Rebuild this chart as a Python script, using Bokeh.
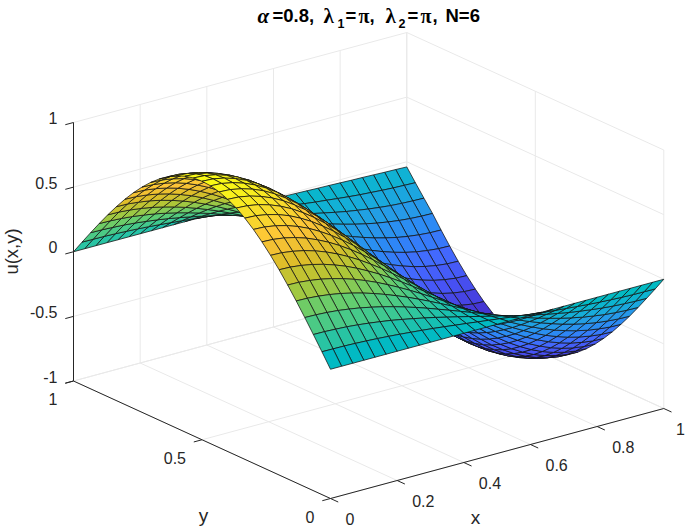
from bokeh.plotting import figure
from bokeh.embed import file_html
from bokeh.resources import INLINE
from bokeh.models import Range1d, ColumnDataSource
from bokeh.core.properties import value

x_nodes = [i/30 for i in range(31)]
y_nodes = [j/30 for j in range(31)]
U = [
[0,0,0,0,0,0,0,0,0,0,0,0,0,0,0,0,0,0,0,0,0,0,0,0,0,0,0,0,0,0,0],
[.105,.104,.103,.100,.096,.091,.085,.078,.070,.062,.053,.043,.032,.022,.011,0,-.011,-.022,-.032,-.043,-.053,-.062,-.070,-.078,-.085,-.091,-.096,-.100,-.103,-.104,-.105],
[.208,.207,.203,.198,.190,.180,.168,.155,.139,.122,.104,.085,.064,.043,.022,0,-.022,-.043,-.064,-.085,-.104,-.122,-.139,-.155,-.168,-.180,-.190,-.198,-.203,-.207,-.208],
[.309,.307,.302,.294,.282,.268,.250,.230,.207,.182,.155,.126,.095,.064,.032,0,-.032,-.064,-.095,-.126,-.155,-.182,-.207,-.230,-.250,-.268,-.282,-.294,-.302,-.307,-.309],
[.407,.405,.398,.387,.372,.352,.329,.302,.272,.239,.204,.166,.126,.085,.043,0,-.043,-.085,-.126,-.166,-.204,-.239,-.272,-.302,-.329,-.352,-.372,-.387,-.398,-.405,-.407],
[.500,.498,.489,.476,.457,.433,.405,.372,.335,.294,.250,.204,.155,.104,.053,0,-.053,-.104,-.155,-.204,-.250,-.294,-.335,-.372,-.405,-.433,-.457,-.476,-.489,-.498,-.500],
[.588,.585,.575,.559,.537,.509,.476,.437,.393,.346,.294,.239,.182,.122,.062,0,-.062,-.122,-.182,-.239,-.294,-.346,-.393,-.437,-.476,-.509,-.537,-.559,-.575,-.585,-.588],
[.669,.666,.654,.636,.611,.579,.541,.497,.448,.393,.335,.272,.207,.139,.070,0,-.070,-.139,-.207,-.272,-.335,-.393,-.448,-.497,-.541,-.579,-.611,-.636,-.654,-.666,-.669],
[.743,.739,.727,.707,.679,.643,.601,.552,.497,.437,.372,.302,.230,.155,.078,0,-.078,-.155,-.230,-.302,-.372,-.437,-.497,-.552,-.601,-.643,-.679,-.707,-.727,-.739,-.743],
[.809,.805,.791,.769,.739,.701,.654,.601,.541,.476,.405,.329,.250,.168,.085,0,-.085,-.168,-.250,-.329,-.405,-.476,-.541,-.601,-.654,-.701,-.739,-.769,-.791,-.805,-.809],
[.866,.862,.847,.824,.792,.750,.701,.643,.579,.509,.433,.352,.268,.180,.091,0,-.091,-.180,-.268,-.352,-.433,-.509,-.579,-.643,-.701,-.750,-.792,-.824,-.847,-.862,-.866],
[.914,.909,.894,.869,.835,.792,.739,.679,.611,.537,.457,.372,.282,.190,.096,0,-.096,-.190,-.282,-.372,-.457,-.537,-.611,-.679,-.739,-.792,-.835,-.869,-.894,-.909,-.914],
[.951,.946,.930,.904,.869,.824,.769,.707,.636,.559,.476,.387,.294,.198,.100,0,-.100,-.198,-.294,-.387,-.476,-.559,-.636,-.707,-.769,-.824,-.869,-.904,-.930,-.946,-.951],
[.978,.973,.956,.930,.894,.847,.791,.727,.654,.575,.489,.398,.302,.203,.103,0,-.103,-.203,-.302,-.398,-.489,-.575,-.654,-.727,-.791,-.847,-.894,-.930,-.956,-.973,-.978],
[.995,.990,.973,.946,.909,.862,.805,.739,.666,.585,.498,.405,.307,.207,.104,0,-.104,-.207,-.307,-.405,-.498,-.585,-.666,-.739,-.805,-.862,-.909,-.946,-.973,-.990,-.995],
[1,.995,.978,.951,.914,.866,.809,.743,.669,.588,.500,.407,.309,.208,.105,0,-.105,-.208,-.309,-.407,-.500,-.588,-.669,-.743,-.809,-.866,-.914,-.951,-.978,-.995,-1],
[.995,.990,.973,.946,.909,.862,.805,.739,.666,.585,.498,.405,.307,.207,.104,0,-.104,-.207,-.307,-.405,-.498,-.585,-.666,-.739,-.805,-.862,-.909,-.946,-.973,-.990,-.995],
[.978,.973,.956,.930,.894,.847,.791,.727,.654,.575,.489,.398,.302,.203,.103,0,-.103,-.203,-.302,-.398,-.489,-.575,-.654,-.727,-.791,-.847,-.894,-.930,-.956,-.973,-.978],
[.951,.946,.930,.904,.869,.824,.769,.707,.636,.559,.476,.387,.294,.198,.100,0,-.100,-.198,-.294,-.387,-.476,-.559,-.636,-.707,-.769,-.824,-.869,-.904,-.930,-.946,-.951],
[.914,.909,.894,.869,.835,.792,.739,.679,.611,.537,.457,.372,.282,.190,.096,0,-.096,-.190,-.282,-.372,-.457,-.537,-.611,-.679,-.739,-.792,-.835,-.869,-.894,-.909,-.914],
[.866,.862,.847,.824,.792,.750,.701,.643,.579,.509,.433,.352,.268,.180,.091,0,-.091,-.180,-.268,-.352,-.433,-.509,-.579,-.643,-.701,-.750,-.792,-.824,-.847,-.862,-.866],
[.809,.805,.791,.769,.739,.701,.654,.601,.541,.476,.405,.329,.250,.168,.085,0,-.085,-.168,-.250,-.329,-.405,-.476,-.541,-.601,-.654,-.701,-.739,-.769,-.791,-.805,-.809],
[.743,.739,.727,.707,.679,.643,.601,.552,.497,.437,.372,.302,.230,.155,.078,0,-.078,-.155,-.230,-.302,-.372,-.437,-.497,-.552,-.601,-.643,-.679,-.707,-.727,-.739,-.743],
[.669,.666,.654,.636,.611,.579,.541,.497,.448,.393,.335,.272,.207,.139,.070,0,-.070,-.139,-.207,-.272,-.335,-.393,-.448,-.497,-.541,-.579,-.611,-.636,-.654,-.666,-.669],
[.588,.585,.575,.559,.537,.509,.476,.437,.393,.346,.294,.239,.182,.122,.062,0,-.062,-.122,-.182,-.239,-.294,-.346,-.393,-.437,-.476,-.509,-.537,-.559,-.575,-.585,-.588],
[.500,.498,.489,.476,.457,.433,.405,.372,.335,.294,.250,.204,.155,.104,.053,0,-.053,-.104,-.155,-.204,-.250,-.294,-.335,-.372,-.405,-.433,-.457,-.476,-.489,-.498,-.500],
[.407,.405,.398,.387,.372,.352,.329,.302,.272,.239,.204,.166,.126,.085,.043,0,-.043,-.085,-.126,-.166,-.204,-.239,-.272,-.302,-.329,-.352,-.372,-.387,-.398,-.405,-.407],
[.309,.307,.302,.294,.282,.268,.250,.230,.207,.182,.155,.126,.095,.064,.032,0,-.032,-.064,-.095,-.126,-.155,-.182,-.207,-.230,-.250,-.268,-.282,-.294,-.302,-.307,-.309],
[.208,.207,.203,.198,.190,.180,.168,.155,.139,.122,.104,.085,.064,.043,.022,0,-.023,-.045,-.067,-.089,-.108,-.127,-.145,-.162,-.176,-.189,-.200,-.209,-.215,-.219,-.221],
[.105,.104,.103,.100,.096,.091,.085,.078,.070,.062,.053,.043,.032,.022,.011,0,-.013,-.026,-.037,-.050,-.062,-.073,-.082,-.092,-.101,-.109,-.115,-.121,-.126,-.129,-.132],
[0,0,0,0,0,0,0,0,0,0,0,0,0,0,0,0,-.003,-.005,-.008,-.011,-.013,-.016,-.019,-.021,-.024,-.027,-.029,-.032,-.035,-.037,-.040],
]

x_ticks = [0,.2,.4,.6,.8,1]
x_tick_labels = ["0","0.2","0.4","0.6","0.8","1"]
y_ticks = [0,.5,1]
y_tick_labels = ["0","0.5","1"]
z_ticks = [-1,-.5,0,.5,1]
z_tick_labels = ["-1","-0.5","0","0.5","1"]

stops = [(0.2422,0.1504,0.6603),(0.2706,0.2147,0.8364),(0.2810,0.3228,0.9579),(0.2602,0.4123,0.9952),
(0.1786,0.5289,0.9682),(0.1460,0.6091,0.9079),(0.0689,0.6948,0.8394),(0.0067,0.7312,0.7660),(0.2161,0.7843,0.5923),
(0.3909,0.8029,0.4354),(0.6720,0.7793,0.2227),(0.8634,0.7406,0.1596),(0.9970,0.7659,0.2199),(0.9676,0.8725,0.1619),(0.9769,0.9839,0.0805)]

def parula(t):
    t = max(0,min(1,t))*(len(stops)-1)
    k = min(int(t),len(stops)-2); f = t-k
    c = [stops[k][m]*(1-f)+stops[k+1][m]*f for m in range(3)]
    return "#%02x%02x%02x"%tuple(int(round(v*255)) for v in c)

O=(330,498); EX=(333.3,-90); EY=(-257,-117.5); EZ=(0,-129.25)
def proj(x,y,z):
    return (O[0]+x*EX[0]+y*EY[0]+(z+1)*EZ[0], O[1]+x*EX[1]+y*EY[1]+(z+1)*EZ[1])

p = figure(width=685,height=529,x_range=Range1d(0,685),y_range=Range1d(529,0),
           output_backend="svg",toolbar_location=None,min_border=0)
p.axis.visible=False; p.grid.visible=False; p.outline_line_color=None

def segs(lst,color,w):
    xs=[];ys=[]
    for a,b in lst:
        A=proj(*a);B=proj(*b)
        xs.append([A[0],B[0]]);ys.append([A[1],B[1]])
    p.multi_line(xs,ys,line_color=color,line_width=w)

grid=[]
for t in x_ticks:
    grid.append(((t,0,-1),(t,1,-1))); grid.append(((t,1,-1),(t,1,1)))
for t in y_ticks:
    grid.append(((0,t,-1),(1,t,-1))); grid.append(((1,t,-1),(1,t,1)))
for t in z_ticks:
    grid.append(((0,1,t),(1,1,t))); grid.append(((1,1,t),(1,0,t)))
segs(grid,"#e9e9e9",1)

xs=[];ys=[];cs=[]
zmin=min(map(min,U));zmax=max(map(max,U))
for j in range(len(y_nodes)-2,-1,-1):
    for i in range(len(x_nodes)-2,-1,-1):
        c=[(i,j),(i+1,j),(i+1,j+1),(i,j+1)]
        P=[proj(x_nodes[a],y_nodes[b],U[b][a]) for a,b in c]
        xs.append([q[0] for q in P]);ys.append([q[1] for q in P])
        cs.append(parula((U[j][i]-zmin)/(zmax-zmin)))
p.patches("xs","ys",source=ColumnDataSource(dict(xs=xs,ys=ys,c=cs)),fill_color="c",line_color="#111111",line_width=0.75)

segs([((0,0,-1),(1,0,-1)),((0,0,-1),(0,1,-1)),((0,1,-1),(0,1,1))],"#262626",1)
TL=8.5
n=(EX[0]**2+EX[1]**2)**.5; m=(EY[0]**2+EY[1]**2)**.5
xs=[];ys=[]
def tick(pt,d):
    A=proj(*pt); xs.append([A[0],A[0]+d[0]*TL]); ys.append([A[1],A[1]+d[1]*TL])
for t in x_ticks: tick((t,0,-1),(-EY[0]/m,-EY[1]/m))
for t in y_ticks: tick((0,t,-1),(-EX[0]/n,-EX[1]/n))
for t in z_ticks: tick((0,1,t),(-EX[0]/n,-EX[1]/n))
p.multi_line(xs,ys,line_color="#262626",line_width=1)

F=value("Liberation Sans")
def lab(x,y,t,align,size=16,angle=0,color="#262626",font=F,style="normal",base="middle"):
    p.text([x],[y],text=[t],text_align=align,text_baseline=base,text_font_size=f"{size}px",angle=angle,
           text_color=color,text_font=font,text_font_style=style)
for t,s in zip(x_ticks,x_tick_labels):
    A=proj(t,0,-1); lab(min(A[0]+15,675.5),A[1]+20,s,"left")
for t,s in zip(y_ticks,y_tick_labels):
    A=proj(0,t,-1); lab(A[0]-16,A[1]+18,s,"right")
for t,s in zip(z_ticks,z_tick_labels):
    A=proj(0,1,t); lab(A[0]-16,A[1]-4.5,s,"right")
lab(475,517,"x","center",19)
lab(203,515,"y","center",19)
lab(11,251,"u(x,y)","center",18.5,angle=1.5708)

S=value("Liberation Serif")
T="#000000"
title_parts=[(257,15,"α",S,"bold italic",21),(272,15,"=0.8,",F,"bold",18.5),(323,15,"λ",S,"bold",21),(337,23,"1",F,"bold",12.5),
 (345,15,"=",F,"bold",18.5),(358,15,"π",S,"bold",20),(369,15,",",F,"bold",18.5),(385,15,"λ",S,"bold",21),(398,23,"2",F,"bold",12.5),
 (407,15,"=",F,"bold",18.5),(420,15,"π",S,"bold",20),(432,15,",",F,"bold",18.5),(445,15,"N=6",F,"bold",18.5)]
for x,y,t,f,st,sz in title_parts:
    lab(x,y,t,"left",sz,color=T,font=f,style=st,base="alphabetic")

open("out.html","w").write(file_html(p,INLINE))
